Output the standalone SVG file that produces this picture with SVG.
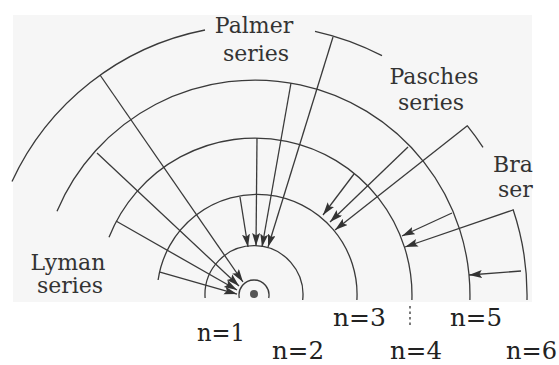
<svg xmlns="http://www.w3.org/2000/svg" width="559" height="365" viewBox="0 0 559 365">
<defs>
<style>
.lvl{fill:none;stroke:#3a3a3a;stroke-width:1.3}
.tr{fill:none;stroke:#3a3a3a;stroke-width:1.3;marker-end:url(#ah)}
.lab{font-family:"DejaVu Serif","Liberation Serif",serif;font-size:22px;fill:#333}
.nlab{font-family:"DejaVu Serif","Liberation Serif",serif;font-size:24px;fill:#222}
</style>
<marker id="ah" markerUnits="userSpaceOnUse" markerWidth="14" markerHeight="9" refX="13" refY="4" orient="auto">
<path d="M0,0 L13,4 L0,8 L2.5,4 z" fill="#333"/>
</marker>
</defs>
<rect x="0" y="0" width="559" height="365" fill="#ffffff"/>
<rect x="13" y="15" width="519" height="287" fill="#f6f6f6"/>

<g id="nucleus"><circle cx="254" cy="294" r="4" fill="#555"/></g>

<g id="level-n1">
<path class="lvl" d="M239.3,298 A15,15 0 1 1 268.7,298"/>
<text class="nlab" x="197" y="341" textLength="48" lengthAdjust="spacingAndGlyphs">n=1</text>
</g>
<g id="level-n2">
<path class="lvl" d="M205.1,298 A49,49 0 1 1 302.7,300"/>
<text class="nlab" x="272" y="359" textLength="52" lengthAdjust="spacingAndGlyphs">n=2</text>
</g>
<g id="level-n3">
<path class="lvl" d="M158.1,280 A100,100 0 0 1 356.9,300"/>
<text class="nlab" x="333" y="326" textLength="53" lengthAdjust="spacingAndGlyphs">n=3</text>
</g>
<g id="level-n4">
<path class="lvl" d="M109,237.3 A157,157 0 0 1 411.9,300"/>
<line x1="410" y1="306" x2="410" y2="328" stroke="#333" stroke-width="1.3" stroke-dasharray="2.5 3"/>
<text class="nlab" x="390" y="359" textLength="52" lengthAdjust="spacingAndGlyphs">n=4</text>
</g>
<g id="level-n5">
<path class="lvl" d="M57,211.2 A215,215 0 0 1 469.9,300"/>
<text class="nlab" x="450" y="326" textLength="52" lengthAdjust="spacingAndGlyphs">n=5</text>
</g>
<g id="level-n6">
<path class="lvl" d="M12,181.5 A270,270 0 0 1 205,30"/>
<path class="lvl" d="M315,31.3 A270,270 0 0 1 382,55.7"/>
<path class="lvl" d="M467,125.3 A270,270 0 0 1 483,147.3"/>
<path class="lvl" d="M513,209.2 A270,270 0 0 1 527,300"/>
<text class="nlab" x="506" y="359" textLength="51" lengthAdjust="spacingAndGlyphs">n=6</text>
</g>

<g id="label-palmer">
<text class="lab" x="254" y="33" text-anchor="middle">Palmer</text>
<text class="lab" x="256" y="61" text-anchor="middle">series</text>
</g>
<g id="label-pasches">
<text class="lab" x="434" y="84" text-anchor="middle">Pasches</text>
<text class="lab" x="431" y="110" text-anchor="middle">series</text>
</g>
<g id="label-brackett">
<text class="lab" x="493" y="172">Bra</text>
<text class="lab" x="498" y="197">ser</text>
</g>
<g id="label-lyman">
<text class="lab" x="68" y="270" text-anchor="middle">Lyman</text>
<text class="lab" x="70" y="293" text-anchor="middle">series</text>
</g>

<g id="connectors">
<path class="tr" d="M100,75 L243,282"/>
<path class="tr" d="M97,153 L239,286"/>
<path class="tr" d="M116,221 L237,290"/>
<path class="tr" d="M160,272 L237,294"/>
<path class="tr" d="M240,197 L248,247"/>
<path class="tr" d="M257,138 L256,246"/>
<path class="tr" d="M291,83 L262,247"/>
<path class="tr" d="M333,37 L268,247"/>
<path class="tr" d="M354,174 L323,215"/>
<path class="tr" d="M408,147 L330,222"/>
<path class="tr" d="M467,126 L335,230"/>
<path class="tr" d="M452,213 L402,236"/>
<path class="tr" d="M513,210 L405,247"/>
<path class="tr" d="M521,271 L469,275"/>
</g>
</svg>
